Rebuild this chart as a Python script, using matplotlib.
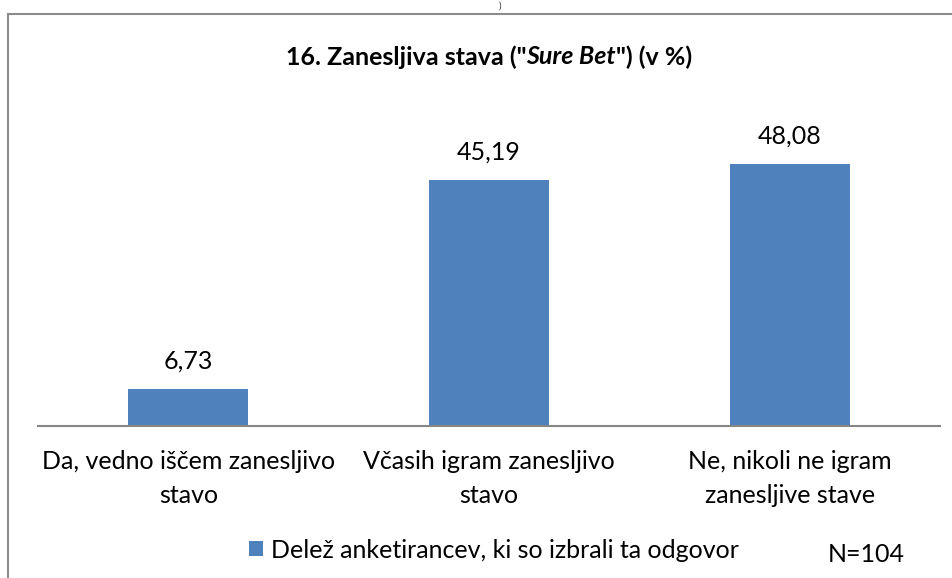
import matplotlib
matplotlib.use("Agg")
import matplotlib.pyplot as plt
from matplotlib.lines import Line2D

plt.rcParams['font.family'] = ['Lato', 'DejaVu Sans']

categories = ["Da, vedno iščem zanesljivo\nstavo",
              "Včasih igram zanesljivo\nstavo",
              "Ne, nikoli ne igram\nzanesljive stave"]
values = [6.73, 45.19, 48.08]
value_labels = ["6,73", "45,19", "48,08"]
series_name = "Delež anketirancev, ki so izbrali ta odgovor"
title_parts = ['16. Zanesljiva stava ("', 'Sure Bet', '") (v %)']
note = "N=104"

W, H = 952, 578
fig = plt.figure(figsize=(W / 100, H / 100), dpi=100)

# outer chart frame (right and bottom edges fall outside the picture)
grey = "#8c8c8c"
fig.add_artist(Line2D([8 / W, 8 / W], [0, 1 - 14 / H], color=grey, lw=1.5))
fig.add_artist(Line2D([8 / W, 1], [1 - 14 / H, 1 - 14 / H], color=grey, lw=1.5))
# bit of text left over from above the chart
fig.text(500 / W, 1 - 6 / H, ")", fontsize=7, ha="center", va="center", color="#333333")

ax = fig.add_axes([38 / W, (H - 426) / H, (940 - 38) / W, 327 / H])
x = range(len(values))
bars = ax.bar(x, values, width=0.4, color="#4f81bd", label=series_name)
ax.set_xlim(-0.5, 2.5)
ax.set_ylim(0, 60)
for s in ["top", "right", "left"]:
    ax.spines[s].set_visible(False)
ax.spines["bottom"].set_color("#868686")
ax.spines["bottom"].set_linewidth(1.5)
ax.set_yticks([])
ax.set_xticks(list(x))
ax.set_xticklabels(categories, fontsize=18, linespacing=1.6)
ax.tick_params(axis="x", length=0, pad=17)

for xi, v, lab in zip(x, values, value_labels):
    ax.annotate(lab, (xi, v), xytext=(0, 28), textcoords="offset pixels",
                ha="center", va="center", fontsize=18)

# title with italic part
fig.canvas.draw()
r = fig.canvas.get_renderer()
styles = ["normal", "italic", "normal"]
pieces = []
for t, st in zip(title_parts, styles):
    pieces.append(fig.text(0, 1 - 57 / H, t, fontsize=18, fontweight="bold",
                           style=st, ha="left", va="center"))
widths = [p.get_window_extent(r).width for p in pieces]
x0 = 489 - sum(widths) / 2
for p, w in zip(pieces, widths):
    p.set_x(x0 / W)
    x0 += w

fig.legend(handles=[bars], labels=[series_name], loc="center",
           bbox_to_anchor=(494 / W, 1 - 550 / H), frameon=False,
           fontsize=18, handlelength=0.55, handleheight=0.55, handletextpad=0.3)
fig.text(866 / W, 1 - 554 / H, note, fontsize=18, ha="center", va="center")

fig.savefig("out.png", dpi=100)
